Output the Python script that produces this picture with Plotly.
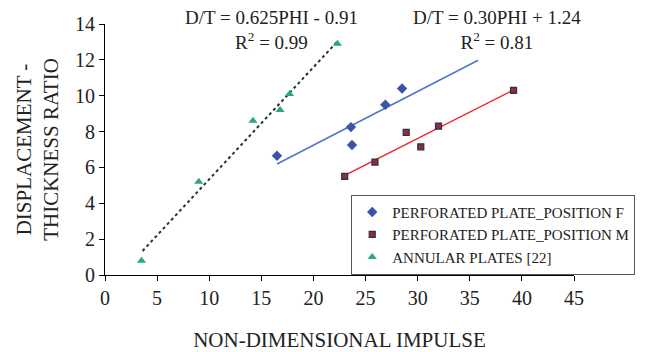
import numpy as np
import plotly.graph_objects as go

# Data
pos_f_x = [16.5, 23.6, 23.7, 26.9, 28.5]
pos_f_y = [6.65, 8.25, 7.25, 9.5, 10.4]

pos_m_x = [23.0, 25.9, 28.9, 30.3, 32.0, 39.2]
pos_m_y = [5.5, 6.3, 7.95, 7.15, 8.3, 10.3]

ann_x = [3.5, 9.0, 14.2, 16.8, 17.7, 22.3]
ann_y = [0.8, 5.2, 8.6, 9.2, 10.1, 12.9]

# Trend line equations (from chart text) and extents
ann_fit = (0.625, -0.91)
ann_fit_x = [3.6, 22.3]
f_fit = (0.30, 1.24)
f_fit_x = [16.5, 35.8]
m_fit_x = [23.0, 39.2]

x_ticks = [0, 5, 10, 15, 20, 25, 30, 35, 40, 45]
y_ticks = [0, 2, 4, 6, 8, 10, 12, 14]

font_family = "Liberation Serif, Times New Roman, serif"

fig = go.Figure()

# Trend lines
fx = np.array(ann_fit_x)
fig.add_trace(go.Scatter(x=fx, y=ann_fit[0] * fx + ann_fit[1], mode="lines",
                         line=dict(color="#1f3a22", width=2, dash="dot"),
                         showlegend=False, hoverinfo="skip"))
bx = np.array(f_fit_x)
fig.add_trace(go.Scatter(x=bx, y=f_fit[0] * bx + f_fit[1], mode="lines",
                         line=dict(color="#4f74c8", width=1.5),
                         showlegend=False, hoverinfo="skip"))
slope_m, int_m = np.polyfit(pos_m_x, pos_m_y, 1)
mx = np.array(m_fit_x)
fig.add_trace(go.Scatter(x=mx, y=slope_m * mx + int_m, mode="lines",
                         line=dict(color="#f0262a", width=1.5),
                         showlegend=False, hoverinfo="skip"))

# Data series
fig.add_trace(go.Scatter(x=pos_f_x, y=pos_f_y, mode="markers",
                         name="PERFORATED PLATE_POSITION F",
                         marker=dict(symbol="diamond", size=8, color="#3b54a6")))
fig.add_trace(go.Scatter(x=pos_m_x, y=pos_m_y, mode="markers",
                         name="PERFORATED PLATE_POSITION M",
                         marker=dict(symbol="square", size=6, color="#8a2a55",
                                     line=dict(color="#333333", width=1.2))))
fig.add_trace(go.Scatter(x=ann_x, y=ann_y, mode="markers",
                         name="ANNULAR PLATES [22]",
                         marker=dict(symbol="triangle-up", size=8, color="#2fa77c")))

fig.add_annotation(x=15.95, y=1.0, xref="x", yref="paper", yanchor="middle",
                   yshift=-6,
                   text="D/T = 0.625PHI - 0.91<br>R<sup>2</sup> = 0.99",
                   showarrow=False, align="center",
                   font=dict(family=font_family, size=19, color="#222222"))
fig.add_annotation(x=37.6, y=1.0, xref="x", yref="paper", yanchor="middle",
                   yshift=-6,
                   text="D/T = 0.30PHI + 1.24<br>R<sup>2</sup> = 0.81",
                   showarrow=False, align="center",
                   font=dict(family=font_family, size=19, color="#222222"))

fig.update_layout(
    width=662, height=352,
    margin=dict(l=105, r=88, t=24, b=77),
    paper_bgcolor="white", plot_bgcolor="white",
    font=dict(family=font_family, color="#222222"),
    showlegend=True,
    legend=dict(x=0.525, y=0.32, xanchor="left", yanchor="top",
                bordercolor="#555555", borderwidth=1, bgcolor="white",
                font=dict(family=font_family, size=15, color="#222222"),
                itemwidth=30, tracegroupgap=0),
    xaxis=dict(range=[0, 45], tickvals=x_ticks, ticks="outside", ticklen=5,
               showline=True, linecolor="black", linewidth=1, tickcolor="black",
               showgrid=False, zeroline=False, automargin=False,
               tickfont=dict(family=font_family, size=20),
               title=dict(text="NON-DIMENSIONAL IMPULSE",
                          font=dict(family=font_family, size=21), standoff=28)),
    yaxis=dict(range=[0, 14], tickvals=y_ticks, ticks="outside", ticklen=5,
               showline=True, linecolor="black", linewidth=1, tickcolor="black",
               showgrid=False, zeroline=False, automargin=False,
               tickfont=dict(family=font_family, size=20),
               title=dict(text="DISPLACEMENT -<br>THICKNESS RATIO",
                          font=dict(family=font_family, size=21), standoff=10)),
)

fig.write_html("out.html", config={"displayModeBar": False},
               post_script="document.body.style.margin='0';document.body.style.overflow='hidden';")
